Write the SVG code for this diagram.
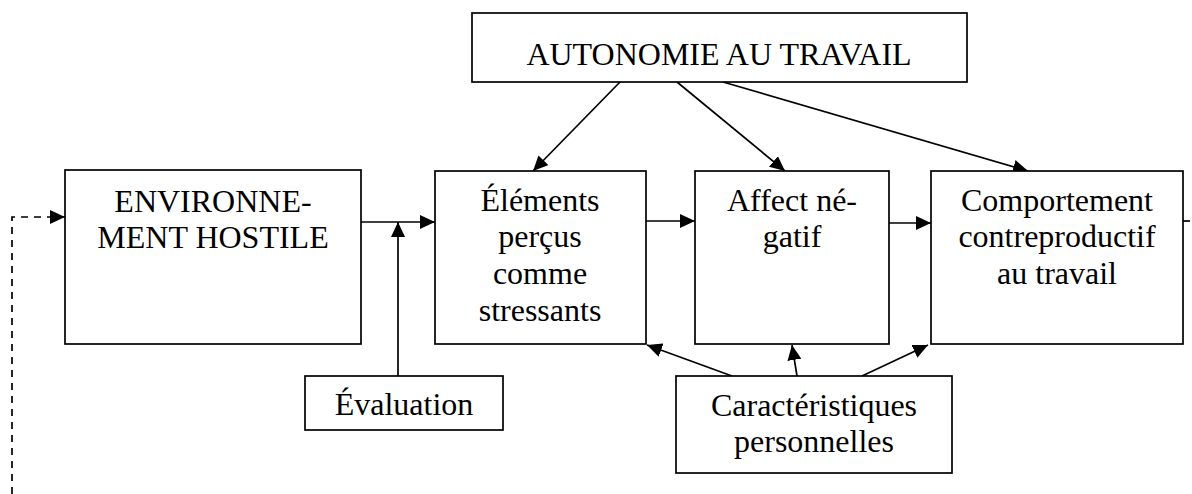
<svg xmlns="http://www.w3.org/2000/svg" width="1192" height="494" viewBox="0 0 1192 494">
  <style>
    .box { fill: #fff; stroke: #000; stroke-width: 1.7; }
    .t { font-family: 'Liberation Serif', 'Times New Roman', serif; font-size: 32px; fill: #000; text-anchor: middle; }
    .c { stroke: #000; stroke-width: 1.7; fill: none; }
    .d { stroke-dasharray: 7 6; }
  </style>
  <defs>
    <marker id="ah" markerWidth="16" markerHeight="14" refX="15" refY="7" orient="auto" markerUnits="userSpaceOnUse">
      <path d="M0,0 L15,7 L0,14 Z" fill="#000"/>
    </marker>
  </defs>
  <rect width="1192" height="494" fill="#fff"/>

  <g id="connectors">
    <path class="c d" d="M12,494 L12,217 L65,217" marker-end="url(#ah)"/>
    <line class="c" x1="361" y1="222" x2="435" y2="222" marker-end="url(#ah)"/>
    <line class="c" x1="398" y1="376" x2="398" y2="222" marker-end="url(#ah)"/>
    <line class="c" x1="646" y1="221" x2="695" y2="221" marker-end="url(#ah)"/>
    <line class="c" x1="889" y1="223" x2="931" y2="223" marker-end="url(#ah)"/>
    <line class="c" x1="1183" y1="221" x2="1190" y2="221"/>
    <line class="c" x1="620" y1="82" x2="533" y2="171" marker-end="url(#ah)"/>
    <line class="c" x1="677" y1="82" x2="785" y2="171" marker-end="url(#ah)"/>
    <line class="c" x1="723" y1="82" x2="1028" y2="171" marker-end="url(#ah)"/>
    <line class="c" x1="732" y1="376" x2="647" y2="345" marker-end="url(#ah)"/>
    <line class="c" x1="797" y1="376" x2="792" y2="345" marker-end="url(#ah)"/>
    <line class="c" x1="862" y1="376" x2="928" y2="345" marker-end="url(#ah)"/>
  </g>

  <g id="autonomie">
    <rect class="box" x="472" y="13" width="495" height="69"/>
    <text class="t" x="719" y="65">AUTONOMIE AU TRAVAIL</text>
  </g>
  <g id="environnement">
    <rect class="box" x="65" y="170" width="296" height="174"/>
    <text class="t" x="213" y="212">ENVIRONNE-</text>
    <text class="t" x="213" y="248">MENT HOSTILE</text>
  </g>
  <g id="elements">
    <rect class="box" x="435" y="171" width="211" height="173"/>
    <text class="t" x="540" y="211">Éléments</text>
    <text class="t" x="540" y="247">perçus</text>
    <text class="t" x="540" y="284">comme</text>
    <text class="t" x="540" y="321">stressants</text>
  </g>
  <g id="affect">
    <rect class="box" x="695" y="171" width="194" height="173"/>
    <text class="t" x="792" y="211">Affect né-</text>
    <text class="t" x="792" y="247">gatif</text>
  </g>
  <g id="comportement">
    <rect class="box" x="931" y="171" width="252" height="173"/>
    <text class="t" x="1057" y="211">Comportement</text>
    <text class="t" x="1057" y="247">contreproductif</text>
    <text class="t" x="1057" y="284">au travail</text>
  </g>
  <g id="evaluation">
    <rect class="box" x="305" y="376" width="198" height="54"/>
    <text class="t" x="404" y="415">Évaluation</text>
  </g>
  <g id="caracteristiques">
    <rect class="box" x="676" y="376" width="276" height="97"/>
    <text class="t" x="814" y="416">Caractéristiques</text>
    <text class="t" x="814" y="452">personnelles</text>
  </g>
</svg>
